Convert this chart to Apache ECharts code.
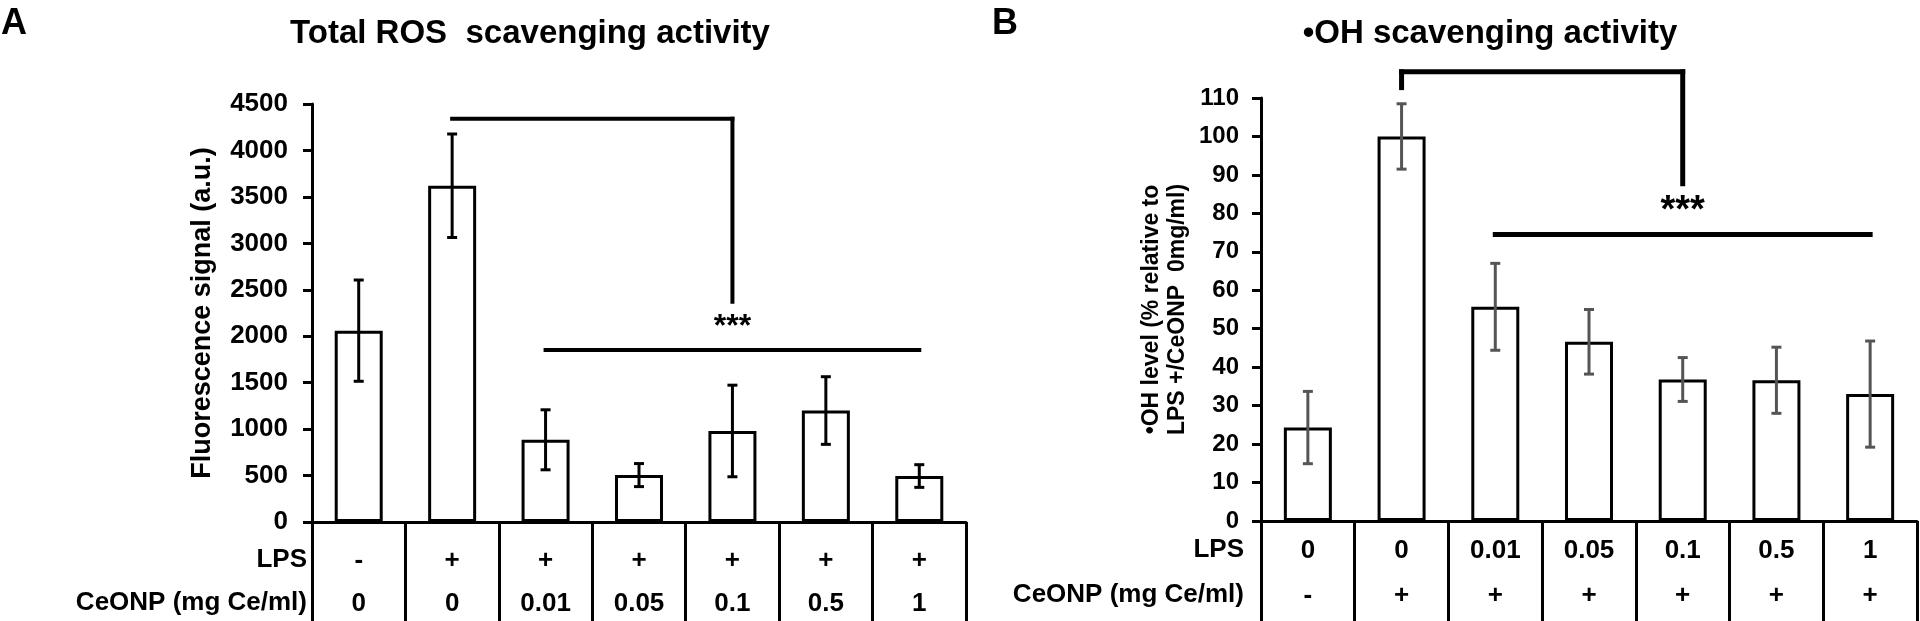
<!DOCTYPE html>
<html>
<head>
<meta charset="utf-8">
<script src="https://cdn.jsdelivr.net/npm/echarts@6/dist/echarts.min.js"></script>
<style>
html,body{margin:0;padding:0;background:#fff;}
#c{width:1920px;height:621px;}
</style>
</head>
<body>
<div id="c"></div>
<script>
// ---------- DATA ----------
const categories = ['g1','g2','g3','g4','g5','g6','g7'];
// Panel A
const aLpsRow   = ['-','+','+','+','+','+','+'];
const aCeRow    = ['0','0','0.01','0.05','0.1','0.5','1'];
const aMeans    = [2060, 3620, 885, 505, 980, 1200, 495];
const aErrors   = [545, 557, 323, 124, 493, 364, 122];
const aTicks    = [0, 4500, 500];               // min, max, interval
const aSegments = [[1,4340,4,4340],[4,4340,4,2370],[2,1852,6,1852]];
const aStar     = [4, 2100];
// Panel B
const bLpsRow   = ['0','0','0.01','0.05','0.1','0.5','1'];
const bCeRow    = ['-','+','+','+','+','+','+'];
const bMeans    = [24.3, 100, 55.7, 46.6, 36.8, 36.6, 33.0];
const bErrors   = [9.4, 8.5, 11.3, 8.4, 5.7, 8.6, 13.8];
const bTicks    = [0, 110, 10];
const bSegments = [[1,112.7,1,116.8],[1,116.8,4,116.8],[4,116.8,4,87.7],[2,74.5,6,74.5]];
const bStar     = [4, 80.4];

// ---------- CHART ----------
const FONT = '"Liberation Sans", Arial, Helvetica, sans-serif';
const chart = echarts.init(document.getElementById('c'), null, {renderer:'canvas'});

function xAxisFor(gridIndex, row1, row2, margin, lh, fs){
  return {
    type:'category', gridIndex, data: categories, boundaryGap:true,
    axisLine:{show:true, lineStyle:{color:'#000', width:3}},
    axisTick:{show:true, alignWithLabel:false, length:100, inside:false, lineStyle:{color:'#000', width:3}},
    axisLabel:{
      show:true, interval:0, margin: margin,
      formatter:(v, i)=> '{r|' + row1[i] + '}\n{r|' + row2[i] + '}',
      rich:{ r:{fontFamily:FONT, fontWeight:'bold', fontSize:fs, color:'#000', lineHeight:lh, align:'center'} }
    },
    splitLine:{show:false}
  };
}
function yAxisFor(gridIndex, ticks, name, nameGap, fs, nfs, nlh, margin){
  return {
    type:'value', gridIndex, min:ticks[0], max:ticks[1], interval:ticks[2],
    axisLine:{show:true, lineStyle:{color:'#000', width:3}},
    axisTick:{show:true, length:9, lineStyle:{color:'#000', width:3}},
    axisLabel:{fontFamily:FONT, fontWeight:'bold', fontSize:fs, color:'#000', margin:margin,
               formatter:(v)=>String(v)},
    splitLine:{show:false},
    name: name, nameLocation:'middle', nameGap:nameGap, nameRotate:90,
    nameTextStyle:{fontFamily:FONT, fontWeight:'bold', fontSize:nfs, color:'#000', lineHeight:nlh, align:'center'}
  };
}
function errSeries(xi, yi, means, errs, color){
  return {
    type:'custom', xAxisIndex:xi, yAxisIndex:yi, clip:false, z:5,
    data: means.map((m,i)=>[i, m, errs[i]]),
    encode:{x:0, y:1},
    renderItem:(params, api)=>{
      const i = api.value(0), m = api.value(1), e = api.value(2);
      const top = api.coord([i, m+e]), bot = api.coord([i, m-e]);
      const hw = 5;
      const st = {stroke:color, lineWidth:3};
      return {type:'group', children:[
        {type:'line', shape:{x1:top[0], y1:top[1], x2:bot[0], y2:bot[1]}, style:st},
        {type:'line', shape:{x1:top[0]-hw, y1:top[1], x2:top[0]+hw, y2:top[1]}, style:st},
        {type:'line', shape:{x1:bot[0]-hw, y1:bot[1], x2:bot[0]+hw, y2:bot[1]}, style:st}
      ]};
    }
  };
}
function segSeries(xi, yi, segs, lw){
  return {
    type:'custom', xAxisIndex:xi, yAxisIndex:yi, clip:false, z:6,
    data: segs, encode:{x:[0,2], y:[1,3]},
    renderItem:(params, api)=>{
      const p1 = api.coord([api.value(0), api.value(1)]);
      const p2 = api.coord([api.value(2), api.value(3)]);
      return {type:'line', shape:{x1:p1[0], y1:p1[1], x2:p2[0], y2:p2[1]},
              style:{stroke:'#000', lineWidth:lw, lineCap:'square'}};
    }
  };
}
function starSeries(xi, yi, pos, fs){
  return {
    type:'custom', xAxisIndex:xi, yAxisIndex:yi, clip:false, z:6,
    data:[pos], encode:{x:0, y:1},
    renderItem:(params, api)=>{
      const p = api.coord([api.value(0), api.value(1)]);
      return {type:'text', x:p[0], y:p[1],
              style:{text:'***', fontFamily:FONT, fontWeight:'bold', fontSize:fs, fill:'#000', align:'center', verticalAlign:'middle'}};
    }
  };
}
function barSeries(xi, yi, means){
  return {
    type:'bar', xAxisIndex:xi, yAxisIndex:yi, data:means, barWidth:48,
    itemStyle:{color:'#fff', borderColor:'#000', borderWidth:3},
    silent:true, z:3
  };
}

const txt = (t, x, y, fs, align) => ({
  type:'text', x, y,
  style:{text:t, fontFamily:FONT, fontWeight:'bold', fontSize:fs, fill:'#000', align:align||'left', verticalAlign:'middle'}
});

const option = {
  backgroundColor:'#fff',
  animation:false,
  grid:[
    {left:312, top:104, width:654, height:418, containLabel:false},
    {left:1261, top:98, width:656, height:423, containLabel:false}
  ],
  xAxis:[
    xAxisFor(0, aLpsRow, aCeRow, 17, 43, 26),
    xAxisFor(1, bLpsRow, bCeRow, 7, 45, 26)
  ],
  yAxis:[
    yAxisFor(0, aTicks, 'Fluorescence signal (a.u.)', 93, 26, 27, 32, 24),
    yAxisFor(1, bTicks, '\u2022OH level (% relative to\nLPS +/CeONP  0mg/ml)', 70, 24, 23, 26, 22)
  ],
  graphic:[
    txt('A', 1, 24, 36),
    txt('Total ROS  scavenging activity', 530, 34, 33, 'center'),
    txt('B', 992, 24, 36),
    txt('\u2022OH scavenging activity', 1490, 34, 33, 'center'),
    txt('LPS', 307, 560, 26, 'right'),
    txt('CeONP (mg Ce/ml)', 307, 603, 26, 'right'),
    txt('LPS', 1244, 550, 26, 'right'),
    txt('CeONP (mg Ce/ml)', 1244, 595, 26, 'right')
  ],
  series:[
    barSeries(0,0,aMeans),
    errSeries(0,0,aMeans,aErrors,'#000'),
    segSeries(0,0,aSegments,4),
    starSeries(0,0,aStar,32),
    barSeries(1,1,bMeans),
    errSeries(1,1,bMeans,bErrors,'#555'),
    segSeries(1,1,bSegments,5),
    starSeries(1,1,bStar,38)
  ]
};
chart.setOption(option);
</script>
</body>
</html>
